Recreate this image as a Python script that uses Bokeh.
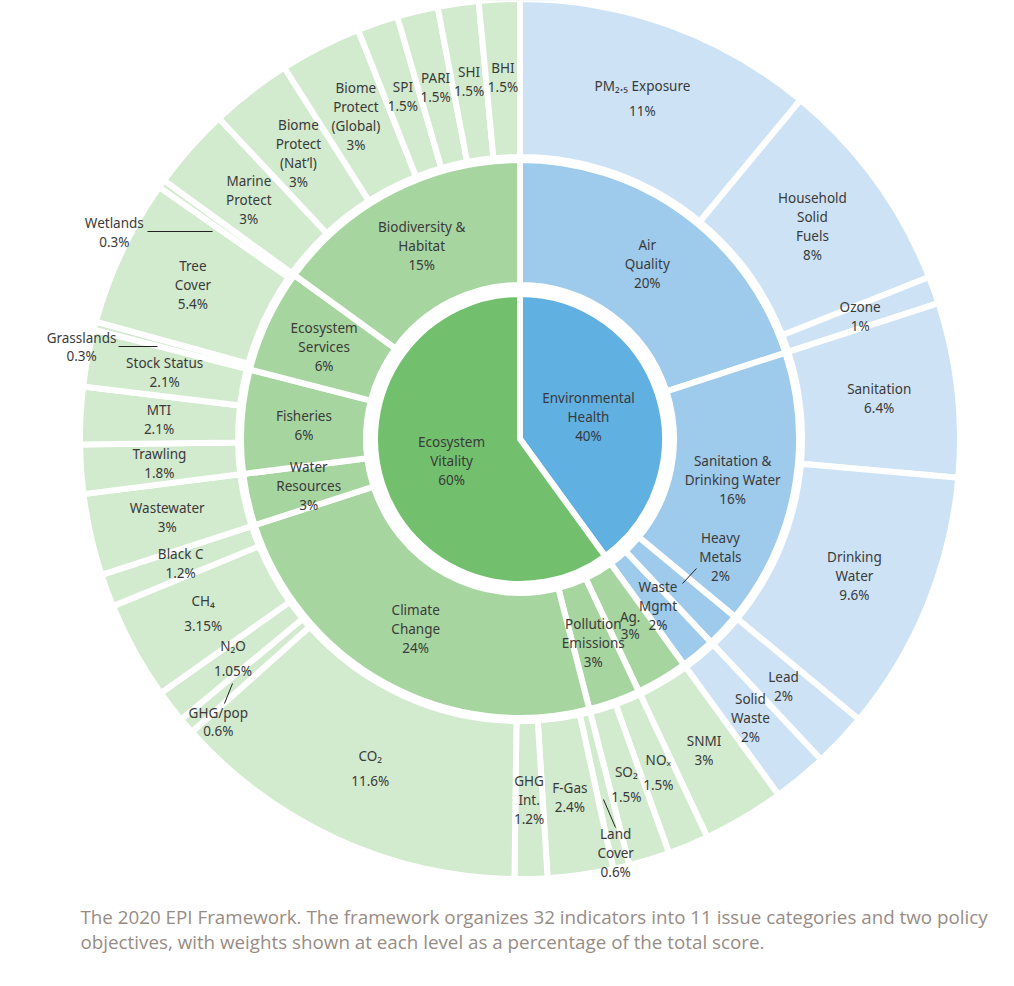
import math
from bokeh.plotting import figure
from bokeh.models import Range1d, ColumnDataSource
from bokeh.embed import file_html
from bokeh.resources import INLINE
from bokeh.core.properties import value

# ---------------- data ----------------
objective_labels = ["Environmental\nHealth\n40%", "Ecosystem\nVitality\n60%"]
objective_weights = [40, 60]

issue_labels = ["Air\nQuality\n20%", "Sanitation &\nDrinking Water\n16%", "Heavy\nMetals\n2%",
                "Waste\nMgmt\n2%", "Ag.\n3%", "Pollution\nEmissions\n3%", "Climate\nChange\n24%",
                "Water\nResources\n3%", "Fisheries\n6%", "Ecosystem\nServices\n6%",
                "Biodiversity &\nHabitat\n15%"]
issue_weights = [20, 16, 2, 2, 3, 3, 24, 3, 6, 6, 15]
issue_objective = [0, 0, 0, 0, 1, 1, 1, 1, 1, 1, 1]

indicator_labels = ["PM\u2082.\u2085 Exposure\n11%", "Household\nSolid\nFuels\n8%", "Ozone\n1%",
                    "Sanitation\n6.4%", "Drinking\nWater\n9.6%", "Lead\n2%", "Solid\nWaste\n2%",
                    "SNMI\n3%", "NO\u2093\n1.5%", "SO\u2082\n1.5%", "Land\nCover\n0.6%",
                    "F-Gas\n2.4%", "GHG\nInt.\n1.2%", "CO\u2082\n11.6%", "GHG/pop\n0.6%",
                    "N\u2082O\n1.05%", "CH\u2084\n3.15%", "Black C\n1.2%", "Wastewater\n3%",
                    "Trawling\n1.8%", "MTI\n2.1%", "Stock Status\n2.1%", "Grasslands\n0.3%",
                    "Tree\nCover\n5.4%", "Wetlands\n0.3%", "Marine\nProtect\n3%",
                    "Biome\nProtect\n(Nat\u2019l)\n3%", "Biome\nProtect\n(Global)\n3%",
                    "SPI\n1.5%", "PARI\n1.5%", "SHI\n1.5%", "BHI\n1.5%"]
# drawn weights (angular share of each slice)
indicator_weights = [11, 8, 1, 6.4, 9.6, 2, 2, 3, 1.5, 1.5, 0.6, 2.4, 1.2, 13.2, 0.6,
                     1.2, 3.6, 1.2, 3, 1.8, 2.1, 2.1, 0.3, 5.4, 0.3, 3, 3, 3, 1.5, 1.5, 1.5, 1.5]
indicator_objective = [0] * 7 + [1] * 25

caption_lines = ["The 2020 EPI Framework. The framework organizes 32 indicators into 11 issue categories and two policy",
                 "objectives, with weights shown at each level as a percentage of the total score."]

# ---------------- styling / layout ----------------
CX, CY = 519.5, -438.5
R_IN = 142
R_MID = (157, 276)
R_OUT = (285, 437)
GAP = 6
H = GAP / 2.0

inner_colors = ["#60b0e2", "#72c06d"]
mid_colors = ["#9ecbec", "#a6d5a0"]
out_colors = ["#cde3f5", "#d2eace"]
TEXT_COLOR = "#3a3a3a"

# label placement overrides (polar: clockwise angle from top, radius)
label_override = {"Land\nCover\n0.6%": (167.0, 425.4), "GHG/pop\n0.6%": (226.8, 413.9),
                  "Grasslands\n0.3%": (281.8, 447.9), "Wetlands\n0.3%": (297.0, 455.3),
                  "Heavy\nMetals\n2%": (120.4, 232.4)}
sub_labels = {"PM\u2082.\u2085 Exposure\n11%", "NO\u2093\n1.5%", "SO\u2082\n1.5%", "CO\u2082\n11.6%",
              "N\u2082O\n1.05%", "CH\u2084\n3.15%"}
leaders = [((147, 231), (212, 231)), ((118, 346), (157, 346)), ((603, 799), (615, 827)),
           ((232, 683), (224, 703)), ((682, 583), (696, 568))]


def cumulate(weights, total=100.0):
    starts, ends, acc = [], [], 0.0
    for w in weights:
        starts.append(acc / total * 360.0)
        acc += w
        ends.append(acc / total * 360.0)
    return starts, ends


def polar(theta, r):
    t = math.radians(theta)
    return CX + r * math.sin(t), CY + r * math.cos(t)


# data coordinates = page pixel coordinates (x right, -y down)
p = figure(width=998, height=970, output_backend="svg", toolbar_location=None,
           x_range=Range1d(0, 998), y_range=Range1d(-970, 0), min_border=0)
p.axis.visible = False
p.grid.visible = False
p.outline_line_color = None
p.background_fill_color = "white"

texts = {"x": [], "y": [], "text": []}


def add_label(label, theta, r, spacing):
    x, y = polar(theta, r)
    lines = label.split("\n")
    n = len(lines)
    for i, ln in enumerate(lines):
        texts["x"].append(x)
        texts["y"].append(y - (i - (n - 1) / 2.0) * spacing)
        texts["text"].append(ln)


def ring(labels, weights, groups, colors, r0, r1, lab_r):
    s, e = cumulate(weights)
    src = ColumnDataSource(dict(start=[math.radians(90 - b) for b in e],
                                end=[math.radians(90 - a) for a in s],
                                color=[colors[g] for g in groups]))
    if r0 == 0:
        p.wedge(x=CX, y=CY, radius=r1 + H, start_angle="start", end_angle="end",
                direction="anticlock", fill_color="color",
                line_color="white", line_width=GAP, source=src)
    else:
        p.annular_wedge(x=CX, y=CY, inner_radius=r0 - H, outer_radius=r1 + H,
                        start_angle="start", end_angle="end",
                        direction="anticlock", fill_color="color", line_color="white",
                        line_width=GAP, source=src)
    for lab, a, b in zip(labels, s, e):
        spacing = 19
        if lab in sub_labels:
            spacing = 25
        if lab == "Ag.\n3%":
            spacing = 17
        if lab in label_override:
            th, rr = label_override[lab]
            if lab in ("Grasslands\n0.3%", "GHG/pop\n0.6%"):
                spacing = 18
            add_label(lab, th, rr, spacing)
        else:
            add_label(lab, (a + b) / 2.0, lab_r, spacing)


ring(objective_labels, objective_weights, [0, 1], inner_colors, 0, R_IN, 72)
ring(issue_labels, issue_weights, issue_objective, mid_colors, R_MID[0], R_MID[1], sum(R_MID) / 2.0)
ring(indicator_labels, indicator_weights, indicator_objective, out_colors, R_OUT[0], R_OUT[1], 361.5)

# leader lines
p.segment(x0=[a[0] for a, b in leaders], y0=[-a[1] for a, b in leaders],
          x1=[b[0] for a, b in leaders], y1=[-b[1] for a, b in leaders],
          line_color="#222222", line_width=1)

p.text(x="x", y="y", text="text", source=ColumnDataSource(texts),
       text_font=value("Noto Sans"), text_font_size="13.5px", text_align="center",
       text_baseline="middle", text_color=TEXT_COLOR)

# caption
p.text(x=[80, 80], y=[-916, -941], text=caption_lines, text_font=value("Open Sans"),
       text_font_size="18.8px", text_align="left", text_baseline="middle",
       text_color="#978c85")

open("out.html", "w").write(file_html(p, INLINE))
